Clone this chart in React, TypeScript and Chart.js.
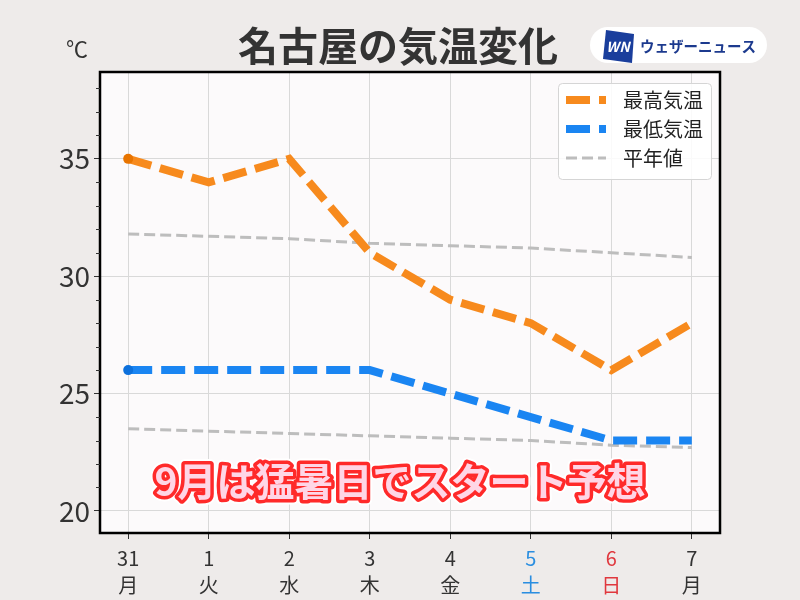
import React, { useEffect, useRef } from "react";
import { Chart, registerables } from "chart.js";

Chart.register(...registerables);

const days = ["31", "1", "2", "3", "4", "5", "6", "7"];
const weekdays = ["月", "火", "水", "木", "金", "土", "日", "月"];
const maxTemps = [35, 34, 35, 31, 29, 28, 26, 28];
const minTemps = [26, 26, 26, 26, 25, 24, 23, 23];
const normalMax = [31.8, 31.7, 31.6, 31.4, 31.3, 31.2, 31.0, 30.8];
const normalMin = [23.5, 23.4, 23.3, 23.2, 23.1, 23.0, 22.8, 22.7];
const yMajorTicks = [20, 25, 30, 35];
const titleText = "名古屋の気温変化";
const unitText = "℃";
const headline = "9月は猛暑日でスタート予想";
const brandText = "ウェザーニュース";
const seriesLabels = ["最高気温", "最低気温", "平年値"];

const FONT = '"Noto Sans CJK JP", "Noto Sans", sans-serif';
const ORANGE = "#f78a1d";
const BLUE = "#1a85f2";
const GRAY = "#bdbdbd";

export default function App() {
  const ref = useRef<HTMLCanvasElement | null>(null);

  useEffect(() => {
    if (!ref.current) return;

    const decor = {
      id: "decor",
      beforeDraw(chart: any) {
        const { ctx, chartArea: a } = chart;
        ctx.save();
        ctx.fillStyle = "#eeebea";
        ctx.fillRect(0, 0, chart.width, chart.height);
        ctx.fillStyle = "#fcfafb";
        ctx.fillRect(a.left, a.top, a.right - a.left, a.bottom - a.top);
        ctx.restore();
      },
      afterDraw(chart: any) {
        const { ctx, chartArea: a } = chart;
        const ys = chart.scales.y;
        ctx.save();
        // border
        ctx.strokeStyle = "#000";
        ctx.lineWidth = 2.5;
        ctx.strokeRect(a.left, a.top, a.right - a.left, a.bottom - a.top);
        // minor ticks
        ctx.lineWidth = 1;
        ctx.strokeStyle = "#333";
        for (let v = Math.ceil(ys.min); v <= Math.floor(ys.max); v++) {
          if (v % 5 === 0) continue;
          const y = Math.round(ys.getPixelForValue(v)) + 0.5;
          ctx.beginPath();
          ctx.moveTo(a.left - 4, y);
          ctx.lineTo(a.left, y);
          ctx.stroke();
        }
        // title
        ctx.fillStyle = "#333";
        ctx.textAlign = "center";
        ctx.textBaseline = "middle";
        ctx.font = `bold 40px ${FONT}`;
        ctx.fillText(titleText, 398, 46);
        // unit
        ctx.font = `22px ${FONT}`;
        ctx.fillText(unitText, 77, 49);
        // logo
        ctx.fillStyle = "#ffffff";
        ctx.beginPath();
        (ctx as any).roundRect(590, 27, 177, 36, 18);
        ctx.fill();
        ctx.fillStyle = "#1a3e9c";
        ctx.beginPath();
        ctx.moveTo(606, 30);
        ctx.lineTo(634, 34);
        ctx.lineTo(632, 63);
        ctx.lineTo(603, 59);
        ctx.closePath();
        ctx.fill();
        ctx.fillStyle = "#fff";
        ctx.font = `italic bold 14px ${FONT}`;
        ctx.fillText("WN", 618, 47);
        ctx.fillStyle = "#1c3a8e";
        ctx.font = `bold 14.5px ${FONT}`;
        ctx.textAlign = "left";
        ctx.fillText(brandText, 640, 46);
        // legend
        const lx = 558, ly = 83, lw = 153, lh = 96;
        ctx.fillStyle = "rgba(255,255,255,0.85)";
        ctx.strokeStyle = "#d5d5d5";
        ctx.lineWidth = 1;
        ctx.beginPath();
        (ctx as any).roundRect(lx + 0.5, ly + 0.5, lw, lh, 4);
        ctx.fill();
        ctx.stroke();
        const items = [
          { c: ORANGE, w: 8, dash: [24, 9] },
          { c: BLUE, w: 8, dash: [24, 9] },
          { c: GRAY, w: 3, dash: [11, 5] },
        ];
        items.forEach((it, i) => {
          const yy = 100 + i * 29;
          ctx.strokeStyle = it.c;
          ctx.lineWidth = it.w;
          ctx.setLineDash(it.dash);
          ctx.beginPath();
          ctx.moveTo(566, yy);
          ctx.lineTo(606, yy);
          ctx.stroke();
          ctx.setLineDash([]);
          ctx.fillStyle = "#222";
          ctx.font = `20px ${FONT}`;
          ctx.textAlign = "left";
          ctx.textBaseline = "middle";
          ctx.fillText(seriesLabels[i], 623, yy);
        });
        // headline
        ctx.font = `bold 39px ${FONT}`;
        ctx.textAlign = "center";
        ctx.textBaseline = "middle";
        ctx.lineJoin = "round";
        ctx.strokeStyle = "#ffffff";
        ctx.lineWidth = 11;
        ctx.strokeText(headline, 400, 481);
        ctx.strokeStyle = "#ff2a2a";
        ctx.lineWidth = 7;
        ctx.strokeText(headline, 400, 481);
        ctx.fillStyle = "#ffd6e6";
        ctx.fillText(headline, 400, 481);
        ctx.restore();
      },
    };

    const xs = days.map((_, i) => i);
    const toPts = (arr: number[]) => arr.map((v, i) => ({ x: xs[i], y: v }));

    const chart = new Chart(ref.current, {
      type: "line",
      data: {
        datasets: [
          {
            label: seriesLabels[0],
            data: toPts(maxTemps),
            borderColor: ORANGE,
            backgroundColor: "#e87400",
            borderWidth: 8,
            borderDash: [24, 9],
            pointRadius: (c: any) => (c.dataIndex === 0 ? 5 : 0),
            pointBorderWidth: 0,
            pointHoverRadius: 0,
            order: 1,
          },
          {
            label: seriesLabels[1],
            data: toPts(minTemps),
            borderColor: BLUE,
            backgroundColor: "#0c70dc",
            borderWidth: 8,
            borderDash: [24, 9],
            pointRadius: (c: any) => (c.dataIndex === 0 ? 5 : 0),
            pointBorderWidth: 0,
            pointHoverRadius: 0,
            order: 2,
          },
          {
            label: seriesLabels[2],
            data: toPts(normalMax),
            borderColor: GRAY,
            borderWidth: 3,
            borderDash: [11, 5],
            pointRadius: 0,
            order: 3,
          },
          {
            label: seriesLabels[2],
            data: toPts(normalMin),
            borderColor: GRAY,
            borderWidth: 3,
            borderDash: [11, 5],
            pointRadius: 0,
            order: 4,
          },
        ],
      },
      options: {
        animation: false,
        responsive: false,
        maintainAspectRatio: false,
        layout: { padding: { top: 72, right: 80, left: 0, bottom: 0 } },
        plugins: { legend: { display: false }, tooltip: { enabled: false }, title: { display: false } },
        scales: {
          x: {
            type: "linear",
            min: -0.35,
            max: 7.35,
            afterBuildTicks: (s: any) => {
              s.ticks = xs.map((v) => ({ value: v }));
            },
            afterFit: (s: any) => {
              s.height = 67;
            },
            border: { display: false },
            grid: { color: "#d9d9d9", lineWidth: 1, tickLength: 6, tickColor: "#333" },
            ticks: {
              autoSkip: false,
              maxRotation: 0,
              padding: 6,
              font: { family: FONT, size: 20, lineHeight: 1.35 },
              color: (c: any) => {
                const w = weekdays[c.index];
                return w === "土" ? "#2a8ee0" : w === "日" ? "#e0383e" : "#333";
              },
              callback: (v: any) => {
                const i = Math.round(v);
                return [days[i], weekdays[i]];
              },
            },
          },
          y: {
            type: "linear",
            min: 19.06,
            max: 38.7,
            afterBuildTicks: (s: any) => {
              s.ticks = yMajorTicks.map((v) => ({ value: v }));
            },
            afterFit: (s: any) => {
              s.width = 100;
            },
            border: { display: false },
            grid: { color: "#d9d9d9", lineWidth: 1, tickLength: 6, tickColor: "#333" },
            ticks: {
              padding: 4,
              color: "#333",
              font: { family: FONT, size: 28 },
            },
          },
        },
      },
      plugins: [decor],
    } as any);

    return () => chart.destroy();
  }, []);

  return (
    <div style={{ position: "fixed", left: 0, top: 0, width: 800, height: 600 }}>
      <canvas ref={ref} width={800} height={600} style={{ width: 800, height: 600, display: "block" }} />
    </div>
  );
}
